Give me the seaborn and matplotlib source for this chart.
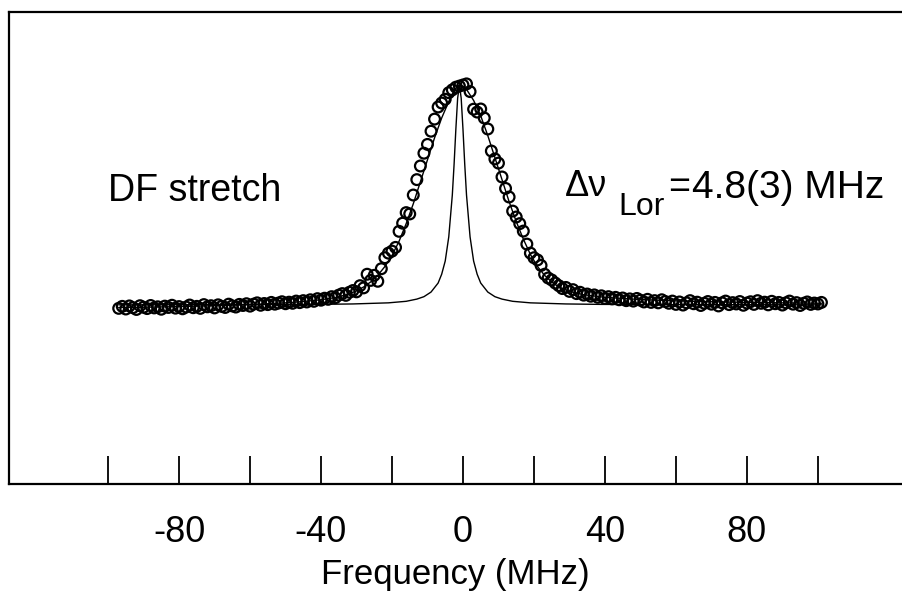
import matplotlib
matplotlib.use("Agg")
import matplotlib.pyplot as plt
import seaborn as sns
import pandas as pd

# measured points (frequency in MHz, signal normalised to peak = 1)
freq_pts = [-97, -96, -95, -94, -93, -92, -91, -90, -89, -88,
            -87, -86, -85, -84, -83, -82, -81, -80, -79, -78,
            -77, -76, -75, -74, -73, -72, -71, -70, -69, -68,
            -67, -66, -65, -64, -63, -62, -61, -60, -59, -58,
            -57, -56, -55, -54, -53, -52, -51, -50, -49, -48,
            -47, -46, -45, -44, -43, -42, -41, -40, -39, -38,
            -37, -36, -35, -34, -33, -32, -31, -30, -29, -28,
            -27, -26, -25, -24, -23, -22, -21, -20, -19, -18,
            -17, -16, -15, -14, -13, -12, -11, -10, -9, -8,
            -7, -6, -5, -4, -3, -2, -1, 0, 1, 2,
            3, 4, 5, 6, 7, 8, 9, 10, 11, 12,
            13, 14, 15, 16, 17, 18, 19, 20, 21, 22,
            23, 24, 25, 26, 27, 28, 29, 30, 31, 32,
            33, 34, 35, 36, 37, 38, 39, 40, 41, 42,
            43, 44, 45, 46, 47, 48, 49, 50, 51, 52,
            53, 54, 55, 56, 57, 58, 59, 60, 61, 62,
            63, 64, 65, 66, 67, 68, 69, 70, 71, 72,
            73, 74, 75, 76, 77, 78, 79, 80, 81, 82,
            83, 84, 85, 86, 87, 88, 89, 90, 91, 92,
            93, 94, 95, 96, 97, 98, 99, 100, 101]
signal_pts = [-0.015, -0.006, -0.018, -0.004, -0.012, -0.020, -0.003, -0.010, -0.016, -0.002,
              -0.013, -0.008, -0.019, -0.005, -0.011, -0.001, -0.014, -0.007, -0.017, -0.009,
              0.000, -0.012, -0.006, -0.015, 0.002, -0.008, -0.003, -0.013, 0.001, -0.006,
              -0.011, 0.004, -0.004, -0.009, 0.003, -0.002, 0.006, -0.005, 0.004, 0.010,
              -0.001, 0.007, 0.002, 0.012, 0.004, 0.009, 0.015, 0.006, 0.013, 0.008,
              0.018, 0.011, 0.020, 0.014, 0.024, 0.017, 0.029, 0.022, 0.031, 0.026,
              0.038, 0.033, 0.045, 0.052, 0.044, 0.058, 0.066, 0.060, 0.088, 0.078,
              0.140, 0.112, 0.135, 0.108, 0.165, 0.215, 0.236, 0.245, 0.262, 0.335,
              0.372, 0.420, 0.414, 0.500, 0.570, 0.632, 0.690, 0.730, 0.790, 0.845,
              0.900, 0.918, 0.935, 0.965, 0.978, 0.990, 0.995, 1.000, 1.005, 0.970,
              0.890, 0.877, 0.891, 0.850, 0.800, 0.700, 0.664, 0.645, 0.582, 0.530,
              0.491, 0.427, 0.400, 0.370, 0.336, 0.277, 0.236, 0.215, 0.205, 0.180,
              0.140, 0.123, 0.114, 0.100, 0.088, 0.075, 0.080, 0.062, 0.070, 0.052,
              0.058, 0.045, 0.050, 0.040, 0.046, 0.035, 0.042, 0.030, 0.038, 0.028,
              0.035, 0.024, 0.032, 0.020, 0.028, 0.018, 0.030, 0.022, 0.014, 0.026,
              0.012, 0.020, 0.010, 0.024, 0.016, 0.008, 0.018, 0.003, 0.014, 0.000,
              0.010, 0.020, 0.006, 0.013, -0.002, 0.008, 0.016, 0.004, 0.012, -0.004,
              0.010, 0.018, 0.002, 0.011, 0.005, 0.016, -0.001, 0.009, 0.015, 0.003,
              0.020, 0.008, 0.013, 0.001, 0.017, 0.006, 0.012, 0.000, 0.010, 0.018,
              0.004, 0.011, -0.002, 0.008, 0.014, 0.003, 0.009, 0.005, 0.012]

# broad fitted profile (thin line through the points)
freq_fit = [-97, -90, -80, -70, -60, -50, -45, -40, -36, -33, -30, -28, -26, -24, -22,
            -20, -18, -16, -14, -12, -10, -8, -6, -4, -3, -2, -1, 0, 1, 3,
            5, 7, 9, 11, 13, 15, 17, 19, 21, 23, 25, 27, 30, 34, 40,
            50, 60, 70, 80, 90, 101]
signal_fit = [-0.011, -0.010, -0.007, -0.003, 0.002, 0.010, 0.016, 0.024, 0.034, 0.046, 0.064, 0.082, 0.105, 0.135, 0.175,
              0.225, 0.290, 0.370, 0.460, 0.560, 0.660, 0.760, 0.850, 0.925, 0.960, 0.985, 1.000, 0.995, 0.980, 0.930,
              0.860, 0.770, 0.670, 0.570, 0.470, 0.380, 0.300, 0.230, 0.175, 0.135, 0.105, 0.082, 0.062, 0.047, 0.035,
              0.025, 0.019, 0.015, 0.012, 0.010, 0.008]

# narrow Lorentzian component, FWHM 4.8 MHz
freq_lor = [-97, -60, -41, -31, -21, -16, -13, -11, -9, -7, -6, -5, -4, -3, -2.5, -2, -1.5, -1,
            -0.5, 0, 0.5, 1, 2, 3, 4, 5, 7, 9, 11, 14, 19, 29, 39, 60, 101]
signal_lor = [0.001, 0.002, 0.003, 0.005, 0.010, 0.017, 0.027, 0.038, 0.059, 0.100, 0.140, 0.200, 0.310, 0.500, 0.640, 0.800, 0.940, 1.000,
              0.940, 0.800, 0.640, 0.500, 0.310, 0.200, 0.140, 0.100, 0.059, 0.038, 0.027, 0.017, 0.010, 0.005, 0.003, 0.002, 0.001]

tick_pos = [-100, -80, -60, -40, -20, 0, 20, 40, 60, 80, 100]
tick_txt = ["", "-80", "", "-40", "", "0", "", "40", "", "80", ""]

pts = pd.DataFrame({"freq": freq_pts, "signal": signal_pts})
fit = pd.DataFrame({"freq": freq_fit, "signal": signal_fit})
lor = pd.DataFrame({"freq": freq_lor, "signal": signal_lor})

sns.set_style("white")
plt.rcParams["font.family"] = ["Liberation Sans", "DejaVu Sans"]
plt.rcParams["text.color"] = "black"
plt.rcParams["axes.labelcolor"] = "black"
plt.rcParams["xtick.color"] = "black"

fig = plt.figure(figsize=(9.02, 5.97), dpi=100)
ax = fig.add_axes([0.01, 0.189, 0.99, 0.791])

sns.lineplot(data=lor, x="freq", y="signal", color="black", linewidth=1.0, ax=ax, estimator=None)
sns.lineplot(data=fit, x="freq", y="signal", color="black", linewidth=1.0, ax=ax, estimator=None)
sns.scatterplot(data=pts, x="freq", y="signal", ax=ax, s=60, marker="o",
                facecolors="none", edgecolor="black", linewidth=1.6, zorder=3)

ax.set_xlim(-127.9, 123.7)
ax.set_ylim(-0.814, 1.332)
ax.set_yticks([])
ax.set_xticks(tick_pos)
ax.set_xticklabels(tick_txt, fontsize=26)
ax.tick_params(axis="x", bottom=True, direction="in", length=20, width=1.3, pad=22, color="black")
ax.set_xlabel("Frequency (MHz)", fontsize=25, labelpad=6)
ax.set_ylabel("")

for side in ["left", "top", "bottom"]:
    ax.spines[side].set_linewidth(1.6)
    ax.spines[side].set_color("black")
ax.spines["right"].set_visible(False)

ax.text(-100, 0.52, "DF stretch", fontsize=27, ha="left", va="center")
ax.text(28.7, 0.54, "Δν", fontsize=26, ha="left", va="center")
ax.text(43.7, 0.445, "Lor", fontsize=23, ha="left", va="center")
ax.text(57.7, 0.53, "=", fontsize=27, ha="left", va="center")
ax.text(64.6, 0.53, "4.8(3) MHz", fontsize=28, ha="left", va="center")

fig.savefig("out.png", dpi=100)
